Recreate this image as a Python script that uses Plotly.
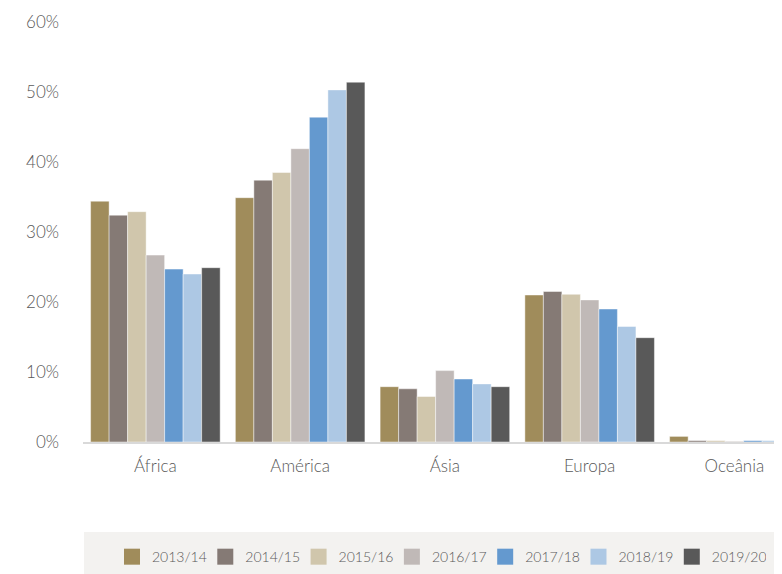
import plotly.graph_objects as go

# Share of students by continent of origin, per academic year (%)
regions = ['África', 'América', 'Ásia', 'Europa', 'Oceânia']
years = ['2013/14', '2014/15', '2015/16', '2016/17', '2017/18', '2018/19', '2019/20']

v_2013 = [34.4, 34.9, 7.9, 21.0, 0.8]
v_2014 = [32.4, 37.4, 7.6, 21.5, 0.2]
v_2015 = [32.9, 38.5, 6.5, 21.1, 0.2]
v_2016 = [26.7, 41.9, 10.2, 20.3, 0.1]
v_2017 = [24.7, 46.4, 9.0, 19.0, 0.2]
v_2018 = [24.0, 50.3, 8.3, 16.5, 0.2]
v_2019 = [24.9, 51.4, 7.9, 14.9, 0.2]

series = [v_2013, v_2014, v_2015, v_2016, v_2017, v_2018, v_2019]
colors = ['#A08C5B', '#857A75', '#D0C6AC', '#C0B9B7', '#6499CF', '#ADC8E4', '#595959']

font_name = 'Lato, sans-serif'
text_color = '#595959'

fig = go.Figure()

for name, vals, col in zip(years, series, colors):
    fig.add_trace(go.Bar(
        x=regions,
        y=vals,
        name=name,
        showlegend=False,
        marker=dict(color=col, line=dict(color='rgba(255,255,255,0.6)', width=0.75)),
    ))

# legend-only entries so the swatches come out as larger squares
for name, col in zip(years, colors):
    fig.add_trace(go.Scatter(
        x=[None], y=[None],
        mode='markers',
        name=name,
        marker=dict(symbol='square', size=18, color=col),
        hoverinfo='skip',
    ))

# light grey band behind the legend
fig.add_shape(type='rect', xref='paper', yref='paper',
              x0=0.0014, x1=1, y0=-0.34, y1=-0.214,
              fillcolor='#F3F2F0', line=dict(width=0), layer='below')

# the page has an 8px body margin, so the figure is nudged up/left
fig.update_layout(
    barmode='group',
    bargap=0.105,
    bargroupgap=0,
    width=782,
    height=574,
    margin=dict(l=75, r=0, t=14, b=140, autoexpand=False),
    paper_bgcolor='white',
    plot_bgcolor='white',
    font=dict(family=font_name, color=text_color, size=17, weight=300),
    showlegend=True,
    legend=dict(
        orientation='h',
        x=0.041, xanchor='left',
        y=-0.274, yanchor='middle',
        bgcolor='rgba(0,0,0,0)',
        font=dict(size=14, color=text_color, family=font_name, weight=300),
        entrywidth=48.3,
        entrywidthmode='pixels',
        traceorder='normal',
    ),
)

fig.update_xaxes(
    range=[-0.5, 4.384],
    showgrid=False,
    showline=True,
    linecolor='#D9D9D9',
    linewidth=2,
    ticks='',
    ticklabelstandoff=8,
    tickfont=dict(size=17, color=text_color, family=font_name, weight=300),
)

fig.update_yaxes(
    range=[0, 60],
    dtick=10,
    ticksuffix='%',
    showgrid=False,
    zeroline=False,
    showline=False,
    ticks='',
    ticklabelstandoff=23,
    tickfont=dict(size=17, color=text_color, family=font_name, weight=300),
)

fig.write_html("out.html")
